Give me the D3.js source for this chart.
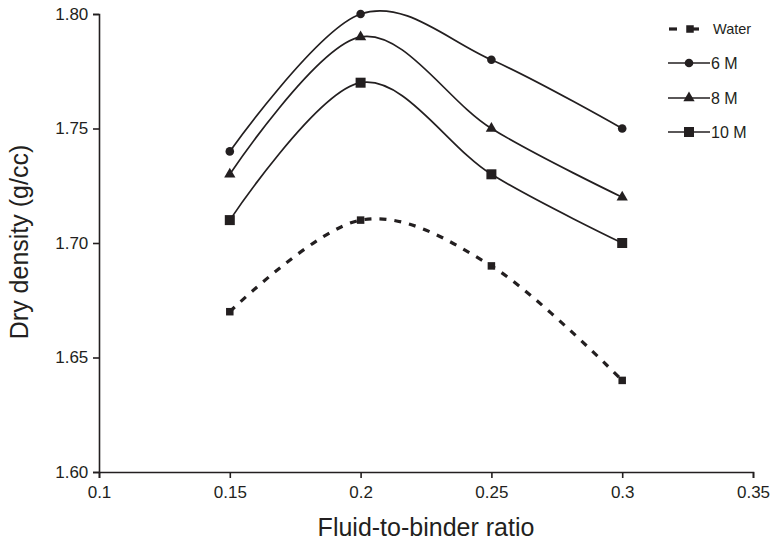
<!DOCTYPE html>
<html><head><meta charset="utf-8">
<script src="https://cdn.jsdelivr.net/npm/d3@7"></script>
<style>body{margin:0;background:#fff}svg{display:block}text{font-family:"Liberation Sans",Arial,sans-serif;fill:#231f20}</style>
</head><body><svg id="c" width="770" height="543"></svg>
<script>
const xValues = [0.15, 0.2, 0.25, 0.3];
const water = [1.67, 1.71, 1.69, 1.64];
const m6 = [1.74, 1.80, 1.78, 1.75];
const m8 = [1.73, 1.79, 1.75, 1.72];
const m10 = [1.71, 1.77, 1.73, 1.70];
const xTicks = [0.1, 0.15, 0.2, 0.25, 0.3, 0.35];
const yTicks = [1.60, 1.65, 1.70, 1.75, 1.80];
const seriesNames = ["Water", "6 M", "8 M", "10 M"];

const svg = d3.select("#c");
const col = "#231f20";
const x = d3.scaleLinear().domain([0.1, 0.35]).range([99, 753]);
const y = d3.scaleLinear().domain([1.60, 1.80]).range([472, 14]);

const xAxis = d3.axisBottom(x).tickValues(xTicks).tickFormat(d => String(d)).tickSizeOuter(0).tickSize(6);
const yAxis = d3.axisLeft(y).tickValues(yTicks).tickFormat(d3.format(".2f")).tickSizeOuter(0).tickSize(6);
const gx = svg.append("g").attr("transform", "translate(0,472)").call(xAxis);
const gy = svg.append("g").attr("transform", "translate(99,0)").call(yAxis);
[gx, gy].forEach(g => {
  g.selectAll("path").attr("stroke", col).attr("stroke-width", 1.6);
  g.selectAll("line").attr("stroke", col).attr("stroke-width", 1.6);
  g.selectAll("text").attr("font-size", 17).style("fill", col);
});
gx.selectAll("text").attr("dy", "1.0em");
gy.selectAll("text").attr("dx", "-0.1em");

svg.append("text").attr("x", 426).attr("y", 536).attr("text-anchor", "middle").attr("font-size", 25).text("Fluid-to-binder ratio");
svg.append("text").attr("transform", "translate(28,242) rotate(-90)").attr("text-anchor", "middle").attr("font-size", 25).text("Dry density (g/cc)");

const line = d3.line().x((d, i) => x(xValues[i])).y(d => y(d)).curve(d3.curveCardinal.tension(0));
const all = [water, m6, m8, m10];
const shapes = ["square", "circle", "triangle", "square"];

function marker(g, type, cx, cy, big) {
  if (type === "circle") g.append("circle").attr("cx", cx).attr("cy", cy).attr("r", 4.3).attr("fill", col);
  else if (type === "triangle") g.append("path").attr("d", d3.symbol(d3.symbolTriangle, 55)()).attr("transform", `translate(${cx},${cy})`).attr("fill", col);
  else { const s = big ? 10 : 7.5; g.append("rect").attr("x", cx - s/2).attr("y", cy - s/2).attr("width", s).attr("height", s).attr("fill", col); }
}

all.forEach((vals, k) => {
  svg.append("path").attr("d", line(vals)).attr("fill", "none").attr("stroke", col)
    .attr("stroke-width", k === 0 ? 3.2 : 1.7).attr("stroke-dasharray", k === 0 ? "7,8" : null);
  const g = svg.append("g");
  vals.forEach((v, i) => marker(g, shapes[k], x(xValues[i]), y(v), k === 3));
});

// legend
const legY = [29, 63, 98, 132];
seriesNames.forEach((name, k) => {
  const g = svg.append("g");
  const ly = legY[k];
  if (k === 0) {
    g.append("line").attr("x1", 669).attr("x2", 677).attr("y1", ly).attr("y2", ly).attr("stroke", col).attr("stroke-width", 3.2);
    marker(g, "square", 690, ly, false);
    g.append("line").attr("x1", 690).attr("x2", 699).attr("y1", ly).attr("y2", ly).attr("stroke", col).attr("stroke-width", 3.2);
    g.append("text").attr("x", 713).attr("y", ly + 5).attr("font-size", 14.5).text(name);
  } else {
    g.append("line").attr("x1", 668).attr("x2", 710).attr("y1", ly).attr("y2", ly).attr("stroke", col).attr("stroke-width", 1.7);
    marker(g, shapes[k], 689, ly, k === 3);
    g.append("text").attr("x", 711).attr("y", ly + 6).attr("font-size", 16).text(name);
  }
});
</script></body></html>
